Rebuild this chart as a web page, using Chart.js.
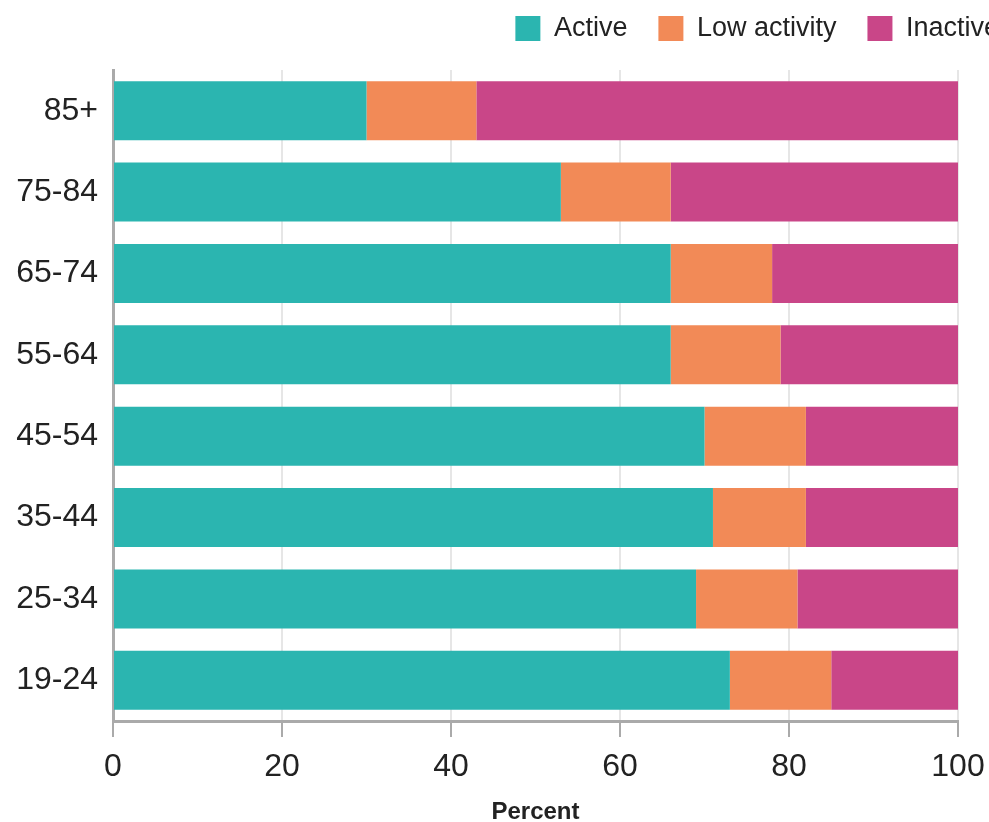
<!DOCTYPE html>
<html>
<head>
<meta charset="utf-8">
<script src="https://cdn.jsdelivr.net/npm/chart.js@4/dist/chart.umd.min.js"></script>
<style>
  html, body { margin: 0; padding: 0; background: #fff; overflow: hidden; }
  #wrap { position: relative; width: 1030px; height: 822px; }
</style>
</head>
<body>
<div id="wrap"><canvas id="c"></canvas></div>
<script>
const categories = ["85+", "75-84", "65-74", "55-64", "45-54", "35-44", "25-34", "19-24"];
const activeValues = [30, 53, 66, 66, 70, 71, 69, 73];
const lowActivityValues = [13, 13, 12, 13, 12, 11, 12, 12];
const inactiveValues = [57, 34, 22, 21, 18, 18, 19, 15];
const seriesNames = ["Active", "Low activity", "Inactive"];
const xTicks = [0, 20, 40, 60, 80, 100];
const axisTitle = "Percent";

const colors = ["#2bb5b0", "#f28a57", "#c94688"];
const FONT = "'Liberation Sans', Arial, Helvetica, sans-serif";

// Layout constants (pixels)
const LEGEND_FONT = 27, LEGEND_BOX = 25, LEGEND_PAD = 31, LEGEND_START = 515;
const TOP_PAD = -16, AREA_TOP = 70, AREA_LEFT = 113, AREA_RIGHT = 958, AREA_BOTTOM = 721, H = 822;

// Width of the canvas so that the legend (right-aligned) begins at LEGEND_START and overflows like the reference
const mctx = document.createElement('canvas').getContext('2d');
mctx.font = 'normal ' + LEGEND_FONT + 'px ' + FONT;
let legendW = 0;
seriesNames.forEach(n => { legendW += LEGEND_BOX + LEGEND_FONT / 2 + mctx.measureText(n).width + LEGEND_PAD; });
const W = Math.ceil(LEGEND_START + legendW + 1);
const wrap = document.getElementById('wrap');
wrap.style.width = W + 'px';

const legendFix = {
  id: 'legendFix',
  afterInit(chart) {
    const lg = chart.legend;
    if (!lg) return;
    const orig = lg.fit.bind(lg);
    lg.fit = function () {
      orig();
      if (this.lineWidths && this.lineWidths.length) this.lineWidths[0] += 1;
      this.height = AREA_TOP - TOP_PAD;
    };
  }
};

new Chart(document.getElementById('c'), {
  type: 'bar',
  data: {
    labels: categories,
    datasets: [
      { label: seriesNames[0], data: activeValues, backgroundColor: colors[0] },
      { label: seriesNames[1], data: lowActivityValues, backgroundColor: colors[1] },
      { label: seriesNames[2], data: inactiveValues, backgroundColor: colors[2] }
    ]
  },
  options: {
    indexAxis: 'y',
    responsive: true,
    maintainAspectRatio: false,
    animation: false,
    layout: { padding: { top: TOP_PAD, right: 0, bottom: 0, left: 0 } },
    datasets: { bar: { categoryPercentage: 1, barPercentage: 0.725, borderWidth: 0 } },
    plugins: {
      legend: {
        position: 'top',
        align: 'end',
        labels: {
          boxWidth: LEGEND_BOX,
          boxHeight: LEGEND_BOX,
          padding: LEGEND_PAD,
          color: '#222',
          font: { family: FONT, size: LEGEND_FONT }
        }
      },
      tooltip: { enabled: false }
    },
    scales: {
      x: {
        stacked: true,
        min: 0,
        max: 100,
        afterBuildTicks(scale) { scale.ticks = xTicks.map(v => ({ value: v })); },
        afterFit(scale) { scale.height = H - AREA_BOTTOM; scale.paddingRight = W - AREA_RIGHT; },
        grid: { color: '#e6e6e6', lineWidth: 2, tickColor: '#aaaaaa', tickLength: 16, drawOnChartArea: true },
        border: { display: true, color: '#aaaaaa', width: 3 },
        ticks: { color: '#222', padding: 11, font: { family: FONT, size: 32 }, maxRotation: 0 },
        title: { display: true, text: axisTitle, color: '#222', padding: { top: 0, bottom: 0 }, font: { family: FONT, size: 24, weight: 'bold', lineHeight: 0.8 } }
      },
      y: {
        stacked: true,
        afterFit(scale) { scale.width = AREA_LEFT; },
        grid: { display: false, drawTicks: false },
        border: { display: true, color: '#aaaaaa', width: 3 },
        ticks: { color: '#222', padding: 15, font: { family: FONT, size: 32 } }
      }
    }
  },
  plugins: [legendFix]
});
</script>
</body>
</html>
